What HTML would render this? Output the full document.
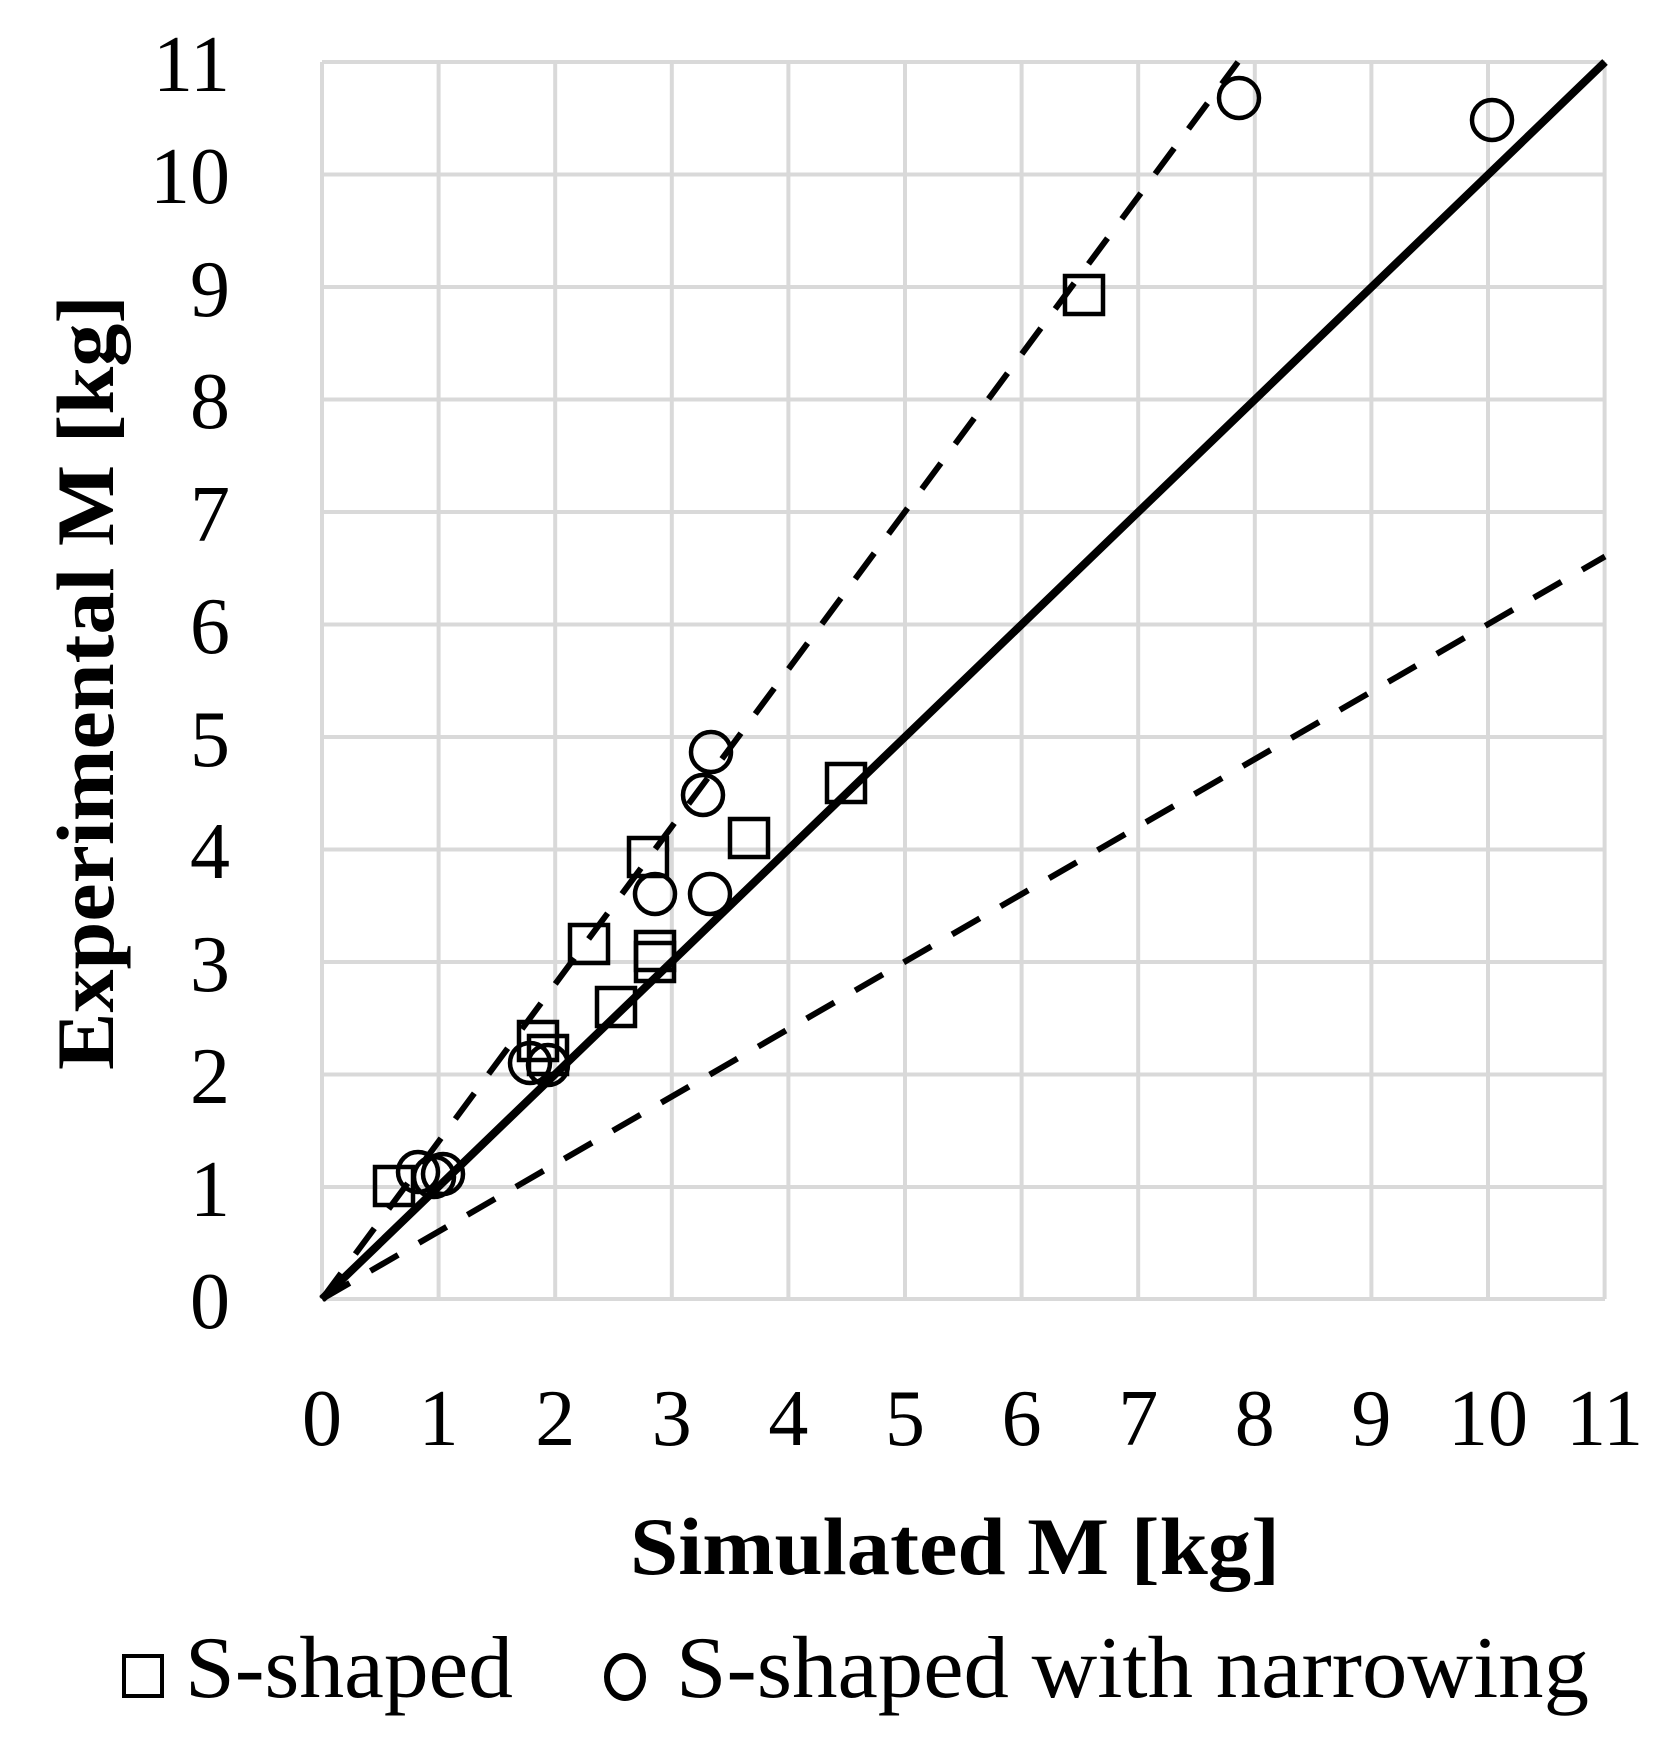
<!DOCTYPE html>
<html><head><meta charset="utf-8"><style>
html,body{margin:0;padding:0;background:#fff;}
svg{display:block;}
text{font-family:"Liberation Serif",serif;fill:#000;}
</style></head><body>
<svg width="1672" height="1761" viewBox="0 0 1672 1761" xmlns="http://www.w3.org/2000/svg">
<g stroke="#d9d9d9" stroke-width="4">
<line x1="322" y1="62" x2="322" y2="1299"/><line x1="438.6" y1="62" x2="438.6" y2="1299"/><line x1="555.2" y1="62" x2="555.2" y2="1299"/><line x1="671.8" y1="62" x2="671.8" y2="1299"/><line x1="788.4" y1="62" x2="788.4" y2="1299"/><line x1="905" y1="62" x2="905" y2="1299"/><line x1="1021.6" y1="62" x2="1021.6" y2="1299"/><line x1="1138.2" y1="62" x2="1138.2" y2="1299"/><line x1="1254.8" y1="62" x2="1254.8" y2="1299"/><line x1="1371.4" y1="62" x2="1371.4" y2="1299"/><line x1="1488" y1="62" x2="1488" y2="1299"/><line x1="1604.6" y1="62" x2="1604.6" y2="1299"/>
<line x1="322" y1="62" x2="1605" y2="62"/><line x1="322" y1="174.5" x2="1605" y2="174.5"/><line x1="322" y1="287" x2="1605" y2="287"/><line x1="322" y1="399.5" x2="1605" y2="399.5"/><line x1="322" y1="512" x2="1605" y2="512"/><line x1="322" y1="624.5" x2="1605" y2="624.5"/><line x1="322" y1="737" x2="1605" y2="737"/><line x1="322" y1="849.5" x2="1605" y2="849.5"/><line x1="322" y1="962" x2="1605" y2="962"/><line x1="322" y1="1074.5" x2="1605" y2="1074.5"/><line x1="322" y1="1187" x2="1605" y2="1187"/><line x1="322" y1="1299" x2="1605" y2="1299"/>
</g>
<g stroke="#000" fill="none">
<line x1="322" y1="1299" x2="1605" y2="62" stroke-width="8"/>
<line x1="322" y1="1299" x2="1238" y2="62" stroke-width="6" stroke-dasharray="32,24"/>
<line x1="322" y1="1299" x2="1605" y2="556.5" stroke-width="6" stroke-dasharray="32,24"/>
</g>
<g stroke="#000" stroke-width="4.5" fill="none">
<rect x="375" y="1167" width="38" height="38"/>
<rect x="519" y="1022" width="38" height="38"/>
<rect x="529" y="1036" width="38" height="38"/>
<rect x="597" y="988" width="38" height="38"/>
<rect x="570" y="925" width="38" height="38"/>
<rect x="636" y="932" width="38" height="38"/>
<rect x="636" y="943" width="38" height="38"/>
<rect x="629" y="838" width="38" height="38"/>
<rect x="730" y="819" width="38" height="38"/>
<rect x="827" y="764" width="38" height="38"/>
<rect x="1065" y="276" width="38" height="38"/>
<circle cx="418" cy="1172" r="20"/>
<circle cx="443" cy="1174" r="20"/>
<circle cx="434" cy="1177" r="20"/>
<circle cx="530" cy="1063" r="20"/>
<circle cx="548" cy="1065" r="20"/>
<circle cx="655" cy="894" r="20"/>
<circle cx="710" cy="894" r="20"/>
<circle cx="703" cy="795" r="20"/>
<circle cx="711" cy="752" r="20"/>
<circle cx="1239" cy="98" r="20"/>
<circle cx="1492" cy="120" r="20"/>
</g>
<g font-size="80" text-anchor="end">
<text x="230" y="91">11</text><text x="230" y="203">10</text><text x="230" y="316">9</text><text x="230" y="428">8</text><text x="230" y="541">7</text><text x="230" y="653">6</text><text x="230" y="766">5</text><text x="230" y="878">4</text><text x="230" y="991">3</text><text x="230" y="1103">2</text><text x="230" y="1216">1</text><text x="230" y="1328">0</text>
</g>
<g font-size="80" text-anchor="middle">
<text x="322" y="1445">0</text><text x="438.6" y="1445">1</text><text x="555.2" y="1445">2</text><text x="671.8" y="1445">3</text><text x="788.4" y="1445">4</text><text x="905" y="1445">5</text><text x="1021.6" y="1445">6</text><text x="1138.2" y="1445">7</text><text x="1254.8" y="1445">8</text><text x="1371.4" y="1445">9</text><text x="1488" y="1445">10</text><text x="1604.6" y="1445">11</text>
</g>
<text x="630" y="1574" font-size="82" font-weight="bold" textLength="650" lengthAdjust="spacingAndGlyphs">Simulated M [kg]</text>
<text transform="translate(113,1070) rotate(-90)" font-size="82" font-weight="bold" textLength="775" lengthAdjust="spacingAndGlyphs">Experimental M [kg]</text>
<rect x="124" y="1656" width="38" height="40" fill="none" stroke="#000" stroke-width="4"/>
<text x="185" y="1697" font-size="88" textLength="328" lengthAdjust="spacingAndGlyphs">S-shaped</text>
<ellipse cx="625" cy="1677" rx="18" ry="21" fill="none" stroke="#000" stroke-width="6"/>
<text x="676" y="1697" font-size="88" textLength="913" lengthAdjust="spacingAndGlyphs">S-shaped with narrowing</text>
</svg>
</body></html>
